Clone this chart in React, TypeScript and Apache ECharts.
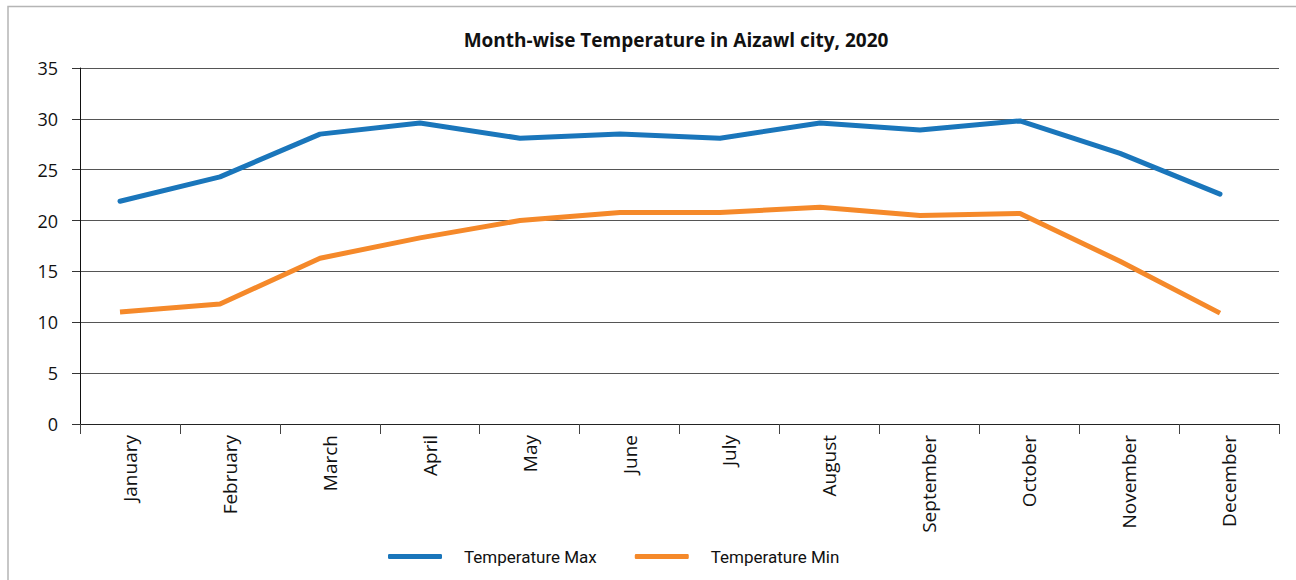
import React, { useEffect, useRef } from "react";
import * as echarts from "echarts";

const months = [
  "January", "February", "March", "April", "May", "June",
  "July", "August", "September", "October", "November", "December",
];
const tempMax = [21.9, 24.3, 28.5, 29.6, 28.1, 28.5, 28.1, 29.6, 28.9, 29.8, 26.6, 22.6];
const tempMin = [11.0, 11.8, 16.3, 18.3, 20.0, 20.8, 20.8, 21.3, 20.5, 20.7, 16.0, 10.9];
const yTicks = { min: 0, max: 35, interval: 5 };

const FONT = "'Open Sans', 'Noto Sans', sans-serif";
const LEGEND_FONT = "Roboto, 'Open Sans', sans-serif";

export default function App() {
  const ref = useRef<HTMLDivElement>(null);
  useEffect(() => {
    document.body.style.margin = "0";
    const chart = echarts.init(ref.current!, null, { renderer: "svg" });
    chart.setOption({
      animation: false,
      backgroundColor: "#ffffff",
      title: {
        text: "Month-wise Temperature in Aizawl city, 2020",
        left: 671,
        top: 25,
        textAlign: "center",
        textStyle: { fontFamily: FONT, fontSize: 19, fontWeight: "bold", color: "#111" },
      },
      graphic: [
        {
          type: "rect",
          shape: { x: 8, y: 6.5, width: 1300, height: 600 },
          style: { fill: "none", stroke: "#b5b5b5", lineWidth: 1.5 },
          silent: true,
        },
      ],
      legend: {
        left: 383,
        top: 543,
        itemWidth: 54,
        itemHeight: 5,
        itemGap: 38,
        icon: "roundRect",
        textStyle: { fontFamily: LEGEND_FONT, fontSize: 17, color: "#111", padding: [0, 0, 0, 17] },
        data: ["Temperature Max", "Temperature Min"],
      },
      grid: [
        { left: 80, right: 17, top: 68, bottom: 156 },
        { left: 70, width: 1200, top: 68, bottom: 156 },
      ],
      xAxis: [
        {
          type: "category",
          gridIndex: 0,
          data: months,
          boundaryGap: true,
          axisLine: { lineStyle: { color: "#222", width: 1 } },
          axisTick: { show: true, length: 10, lineStyle: { color: "#444" } },
          axisLabel: {
            rotate: 90,
            margin: 11,
            interval: 0,
            fontFamily: FONT,
            fontSize: 19,
            color: "#111",
          },
        },
        {
          type: "category",
          gridIndex: 1,
          data: months,
          boundaryGap: true,
          show: false,
        },
      ],
      yAxis: [
        {
          type: "value",
          gridIndex: 0,
          min: yTicks.min,
          max: yTicks.max,
          interval: yTicks.interval,
          axisLine: { show: true, lineStyle: { color: "#111", width: 1 } },
          axisTick: { show: true, length: 8, lineStyle: { color: "#333" } },
          axisLabel: { margin: 22, fontFamily: FONT, fontSize: 18, color: "#111" },
          splitLine: { show: true, lineStyle: { color: "#555", width: 1 } },
        },
        {
          type: "value",
          gridIndex: 1,
          min: yTicks.min,
          max: yTicks.max,
          interval: yTicks.interval,
          show: false,
          splitLine: { show: false },
        },
      ],
      series: [
        {
          name: "Temperature Max",
          type: "line",
          xAxisIndex: 1,
          yAxisIndex: 1,
          data: tempMax,
          symbol: "none",
          lineStyle: { color: "#1a76bb", width: 5, cap: "round" },
          itemStyle: { color: "#1a76bb" },
        },
        {
          name: "Temperature Min",
          type: "line",
          xAxisIndex: 1,
          yAxisIndex: 1,
          data: tempMin,
          symbol: "none",
          lineStyle: { color: "#f5892a", width: 5 },
          itemStyle: { color: "#f5892a" },
        },
      ],
    });
    return () => chart.dispose();
  }, []);
  return <div ref={ref} style={{ width: 1296, height: 580 }} />;
}
